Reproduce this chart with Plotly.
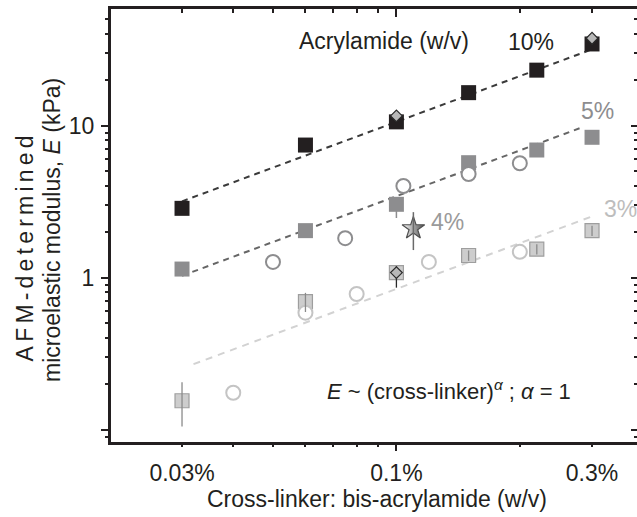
import plotly.graph_objects as go

# ---------------- data ----------------
x_10 = [0.03, 0.06, 0.1, 0.15, 0.22, 0.3]
E_10 = [2.86, 7.46, 10.6, 16.5, 23.2, 34.5]

x_5 = [0.03, 0.06, 0.1, 0.15, 0.22, 0.3]
E_5 = [1.14, 2.04, 3.04, 5.71, 6.92, 8.39]
E_5_err_plus = [0, 0, 0, 0, 0, 0]
E_5_err_minus = [0, 0, 0.57, 0, 0, 0]

x_3 = [0.03, 0.06, 0.1, 0.15, 0.22, 0.3]
E_3 = [0.155, 0.695, 1.08, 1.40, 1.54, 2.04]
E_3_err = [0.05, 0.10, 0, 0.11, 0.12, 0.16]

x_circ_mid = [0.05, 0.075, 0.104, 0.15, 0.2]
E_circ_mid = [1.27, 1.82, 4.01, 4.81, 5.66]

x_circ_light = [0.04, 0.06, 0.08, 0.12, 0.2]
E_circ_light = [0.175, 0.589, 0.781, 1.27, 1.48]

x_diamond = [0.1, 0.3, 0.1]
E_diamond = [11.6, 37.6, 1.08]
E_diamond_err_plus = [0.4, 1.2, 0.11]
E_diamond_err_minus = [0.4, 1.2, 0.22]

x_star = [0.11]
E_star = [2.11]
E_star_err = [0.59]

fit_x_10 = [0.03, 0.3]
fit_E_10 = [3.18, 31.8]
fit_x_5 = [0.03, 0.285]
fit_E_5 = [1.03, 9.8]
fit_x_3 = [0.032, 0.3]
fit_E_3 = [0.27, 2.53]

x_tick_vals = [0.03, 0.1, 0.3]
x_tick_text = ["0.03%", "0.1%", "0.3%"]
x_major_tick = [0.1]
x_minor_vals = [0.03, 0.04, 0.05, 0.06, 0.07, 0.08, 0.09, 0.2, 0.3]
y_label_vals = [1, 10]
y_label_text = ["1", "10"]
y_major_tick = [0.1, 1, 10]
y_minor_vals = [0.09, 0.2, 0.3, 0.4, 0.5, 0.6, 0.7, 0.8, 0.9,
                2, 3, 4, 5, 6, 7, 8, 9, 20, 30, 40, 50]

x_range_log = [-1.6961, -0.4132]
y_range_log = [-1.0809, 1.7678]

# ---------------- style ----------------
W, H = 637, 517
ML, MR, MT, MB = 111, 0, 9, 75
FONT = "Liberation Sans, Arial, Helvetica, sans-serif"
INK = "#231f20"
BLACK_SQ = "#231f20"
MID = "#8d8d8f"
LIGHT_FILL = "#cdcdcd"
LIGHT_EDGE = "#9e9e9e"
LIGHT_CIRC = "#c4c4c4"

fig = go.Figure()

# fitted power-law lines
fig.add_trace(go.Scatter(x=fit_x_10, y=fit_E_10, mode="lines",
                         line=dict(color="#3a3a3a", width=2, dash="6px,5px"),
                         showlegend=False, hoverinfo="skip"))
fig.add_trace(go.Scatter(x=fit_x_5, y=fit_E_5, mode="lines",
                         line=dict(color="#666666", width=2, dash="6px,5px"),
                         showlegend=False, hoverinfo="skip"))
fig.add_trace(go.Scatter(x=fit_x_3, y=fit_E_3, mode="lines",
                         line=dict(color="#d2d2d2", width=2, dash="7px,6px"),
                         showlegend=False, hoverinfo="skip"))

# squares
fig.add_trace(go.Scatter(x=x_10, y=E_10, mode="markers", name="10%",
                         marker=dict(symbol="square", size=15, color=BLACK_SQ,
                                     line=dict(width=0)),
                         showlegend=False))
fig.add_trace(go.Scatter(x=x_5, y=E_5, mode="markers", name="5%",
                         marker=dict(symbol="square", size=15, color=MID,
                                     line=dict(width=0)),
                         error_y=dict(type="data", symmetric=False,
                                      array=E_5_err_plus, arrayminus=E_5_err_minus,
                                      color=MID, thickness=1.5, width=0),
                         showlegend=False))
fig.add_trace(go.Scatter(x=x_3, y=E_3, mode="markers", name="3%",
                         marker=dict(symbol="square", size=14, color=LIGHT_FILL,
                                     line=dict(width=1.2, color=LIGHT_EDGE)),
                         showlegend=False))

# open circles (white filled)
fig.add_trace(go.Scatter(x=x_circ_mid, y=E_circ_mid, mode="markers",
                         marker=dict(symbol="circle", size=14, color="white",
                                     line=dict(width=2, color=MID)),
                         showlegend=False))
fig.add_trace(go.Scatter(x=x_circ_light, y=E_circ_light, mode="markers",
                         marker=dict(symbol="circle", size=14, color="white",
                                     line=dict(width=2, color=LIGHT_CIRC)),
                         showlegend=False))

# error bars drawn over the light squares
fig.add_trace(go.Scatter(x=x_3, y=E_3, mode="markers",
                         marker=dict(size=1, color="rgba(0,0,0,0)"),
                         error_y=dict(type="data", array=E_3_err, color="#8a8a8a",
                                      thickness=1.3, width=0),
                         showlegend=False, hoverinfo="skip"))

# diamonds
fig.add_trace(go.Scatter(x=x_diamond, y=E_diamond, mode="markers",
                         marker=dict(symbol="diamond", size=9, color="#b8b8b8",
                                     line=dict(width=1.2, color="#2a2a2a")),
                         error_y=dict(type="data", symmetric=False,
                                      array=E_diamond_err_plus,
                                      arrayminus=E_diamond_err_minus,
                                      color="#2a2a2a", thickness=1.3, width=0),
                         showlegend=False))

# star (4%) - left half light, right half dark
fig.add_trace(go.Scatter(x=x_star, y=E_star, mode="markers",
                         marker=dict(symbol="star", size=17, color="white",
                                     gradient=dict(type="horizontal", color="#4e4e4e"),
                                     line=dict(width=1.2, color="#505050")),
                         showlegend=False))
fig.add_trace(go.Scatter(x=x_star, y=E_star, mode="markers",
                         marker=dict(size=1, color="rgba(0,0,0,0)"),
                         error_y=dict(type="data", array=E_star_err, color="#6a6a6a",
                                      thickness=1.5, width=0),
                         showlegend=False, hoverinfo="skip"))

# empty traces so that the tick-only axes exist
fig.add_trace(go.Scatter(x=[], y=[], xaxis="x2", yaxis="y", showlegend=False))
fig.add_trace(go.Scatter(x=[], y=[], xaxis="x3", yaxis="y", showlegend=False))
fig.add_trace(go.Scatter(x=[], y=[], xaxis="x", yaxis="y2", showlegend=False))
fig.add_trace(go.Scatter(x=[], y=[], xaxis="x", yaxis="y3", showlegend=False))

tickfont = dict(family=FONT, size=23, color=INK)
clear = "rgba(0,0,0,0)"

fig.update_layout(
    width=W, height=H,
    margin=dict(l=ML, r=MR, t=MT, b=MB, pad=0),
    paper_bgcolor="white", plot_bgcolor="white",
    font=dict(family=FONT, size=23, color=INK),
    showlegend=False,
    # bottom axis: line + labels
    xaxis=dict(type="log", range=x_range_log, showgrid=False, zeroline=False,
               showline=True, linewidth=3, linecolor=INK,
               tickvals=x_tick_vals, ticktext=x_tick_text,
               ticks="outside", ticklen=8, tickwidth=1.5,
               tickcolor=clear, tickfont=tickfont, automargin=False),
    # top mirror: line + inside ticks
    xaxis2=dict(type="log", range=x_range_log, overlaying="x", side="top",
                anchor="y", showgrid=False, zeroline=False,
                showline=True, linewidth=3, linecolor=INK,
                tickvals=x_major_tick, ticks="inside", ticklen=8, tickwidth=1.8,
                tickcolor=INK, showticklabels=False,
                minor=dict(tickvals=x_minor_vals, ticks="inside", ticklen=4,
                           tickwidth=1.8, tickcolor=INK, showgrid=False),
                automargin=False),
    # bottom ticks
    xaxis3=dict(type="log", range=x_range_log, overlaying="x", side="bottom",
                anchor="y", showgrid=False, zeroline=False, showline=False,
                tickvals=x_major_tick, ticks="outside", ticklen=8, tickwidth=1.8,
                tickcolor=INK, showticklabels=False,
                minor=dict(tickvals=x_minor_vals, ticks="outside", ticklen=4,
                           tickwidth=1.8, tickcolor=INK, showgrid=False),
                automargin=False),
    # left axis: line + labels
    yaxis=dict(type="log", range=y_range_log, showgrid=False, zeroline=False,
               showline=True, linewidth=3, linecolor=INK,
               tickvals=y_label_vals, ticktext=y_label_text,
               ticks="outside", ticklen=9, tickwidth=1.8, tickcolor=clear,
               tickfont=tickfont, automargin=False),
    # right mirror ticks (inside)
    yaxis2=dict(type="log", range=y_range_log, overlaying="y", side="right",
                anchor="x", showgrid=False, zeroline=False, showline=False,
                tickvals=y_major_tick, ticks="inside", ticklen=6, tickwidth=1.8,
                tickcolor=INK, showticklabels=False,
                minor=dict(tickvals=y_minor_vals, ticks="inside", ticklen=3,
                           tickwidth=1.8, tickcolor=INK, showgrid=False),
                automargin=False),
    # left ticks
    yaxis3=dict(type="log", range=y_range_log, overlaying="y", side="left",
                anchor="x", showgrid=False, zeroline=False, showline=False,
                tickvals=y_major_tick, ticks="outside", ticklen=9, tickwidth=1.8,
                tickcolor=INK, showticklabels=False,
                minor=dict(tickvals=y_minor_vals, ticks="outside", ticklen=5,
                           tickwidth=1.8, tickcolor=INK, showgrid=False),
                automargin=False),
)

PW, PH = W - ML - MR, H - MT - MB


def px(x, y):
    return (x - ML) / PW, (H - MB - y) / PH


def label(text, cx, cy, color, size=23, angle=0):
    xp, yp = px(cx, cy)
    fig.add_annotation(text=text, x=xp, y=yp, xref="paper", yref="paper",
                       xanchor="center", yanchor="middle", showarrow=False,
                       textangle=angle,
                       font=dict(family=FONT, size=size, color=color))


# axis titles
label("Cross-linker: bis-acrylamide (w/v)", 377, 499, INK)
label("AFM-determined", 25, 247, INK, angle=-90)
label("microelastic modulus, <i>E</i> (kPa)", 52, 230, INK, angle=-90)

# in-plot labels
label("Acrylamide (w/v)", 384, 41, INK)
label("10%", 531, 42, INK)
label("5%", 597, 111, MID)
label("4%", 447, 222, "#9a9a9a")
label("3%", 620, 209, "#bdbdbd")
label("<i>E</i> ~ (cross-linker)<sup><i>α</i></sup> ; <i>α</i> = 1", 449, 390, INK, 22)

post = """
document.body.style.margin = '0px';
document.querySelectorAll('.annotation-text').forEach(function (el) {
  if (el.textContent === 'AFM-determined') { el.style.letterSpacing = '4.2px'; }
});
"""

fig.write_html("out.html", config={"displayModeBar": False}, post_script=post)
